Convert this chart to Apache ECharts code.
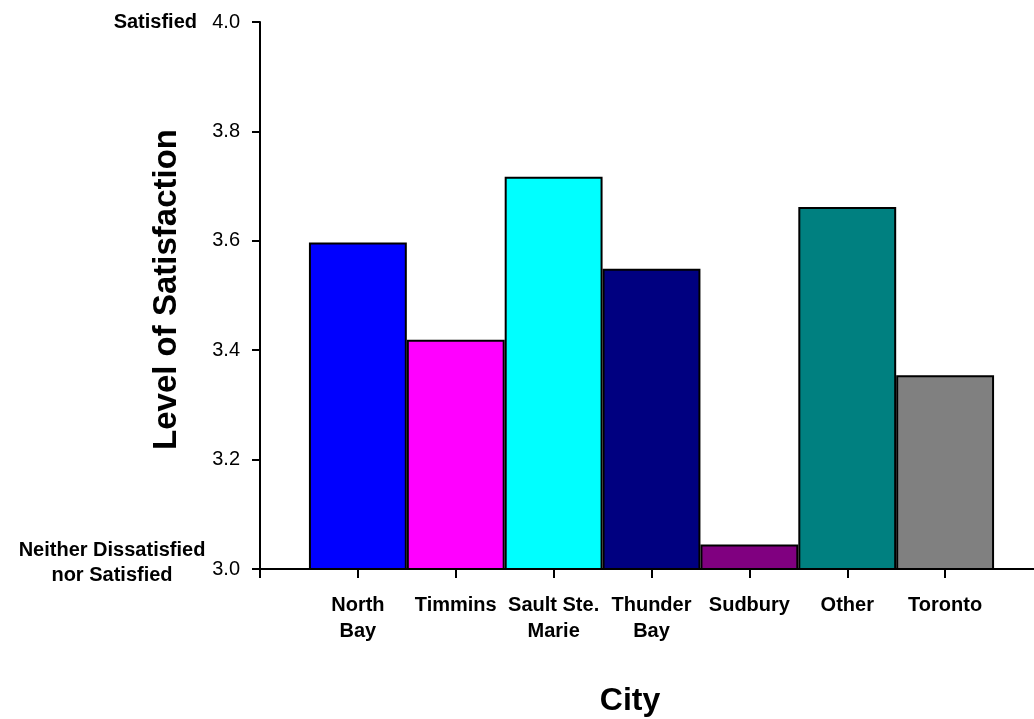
<!DOCTYPE html>
<html>
<head>
<meta charset="utf-8">
<script src="https://cdn.jsdelivr.net/npm/echarts@6/dist/echarts.min.js"></script>
<style>
html,body{margin:0;padding:0;background:#fff;overflow:hidden;}
#chart{width:1034px;height:719px;}
</style>
</head>
<body>
<div id="chart"></div>
<script>
// ---- data ----
const cities = ['North\nBay', 'Timmins', 'Sault Ste.\nMarie', 'Thunder\nBay', 'Sudbury', 'Other', 'Toronto'];
const satisfaction = [3.597, 3.419, 3.717, 3.549, 3.045, 3.662, 3.354];
const barColors = ['#0000FF', '#FF00FF', '#00FFFF', '#000080', '#800080', '#008080', '#808080'];
const yMin = 3.0, yMax = 4.0, yStep = 0.2;
const yTopLabel = 'Satisfied';
const yBottomLabel = 'Neither Dissatisfied\nnor Satisfied';
const xTitle = 'City';
const yTitle = 'Level of Satisfaction';

const FONT = "'Liberation Sans', Arial, Helvetica, sans-serif";

// axis has an empty slot at each end so bars sit centred on the ticks
const axisCats = [''].concat(cities, ['']);
const seriesData = ['-'].concat(satisfaction.map((v, i) => ({
  value: v,
  itemStyle: { color: barColors[i] }
})), ['-']);

const chart = echarts.init(document.getElementById('chart'), null, { renderer: 'canvas' });
chart.setOption({
  animation: false,
  backgroundColor: '#ffffff',
  grid: { left: 260, top: 22, height: 547, width: 783, containLabel: false, outerBoundsMode: 'none' },
  xAxis: {
    type: 'category',
    data: axisCats,
    boundaryGap: false,
    axisLine: { show: true, lineStyle: { color: '#000', width: 2 } },
    axisTick: { show: true, interval: 0, length: 9, lineStyle: { color: '#000', width: 2 } },
    axisLabel: {
      interval: 0, margin: 23, color: '#000',
      fontFamily: FONT, fontSize: 20, fontWeight: 'bold', lineHeight: 26
    },
    splitLine: { show: false }
  },
  yAxis: {
    type: 'value',
    min: yMin, max: yMax, interval: yStep,
    axisLine: { show: true, lineStyle: { color: '#000', width: 2 } },
    axisTick: { show: true, length: 8, lineStyle: { color: '#000', width: 2 } },
    axisLabel: {
      margin: 20, color: '#000', fontFamily: FONT, fontSize: 20,
      formatter: v => v.toFixed(1)
    },
    splitLine: { show: false }
  },
  series: [{
    type: 'bar',
    data: seriesData,
    barCategoryGap: '0%',
    clip: true,
    itemStyle: { borderColor: '#000', borderWidth: 2 }
  }]
});

// side labels and titles placed against the axes' own scale
const pTop = chart.convertToPixel({ yAxisIndex: 0 }, yMax);
const pBot = chart.convertToPixel({ yAxisIndex: 0 }, yMin);
chart.setOption({
  graphic: [
    { type: 'text', x: 197, y: pTop, style: { text: yTopLabel, fill: '#000', font: "bold 20px " + FONT, textAlign: 'right', textVerticalAlign: 'middle' } },
    { type: 'text', x: 112, y: pBot - 6, style: { text: yBottomLabel, fill: '#000', font: "bold 20px " + FONT, textAlign: 'center', textVerticalAlign: 'middle', lineHeight: 25 } },
    { type: 'text', x: 167, y: (pTop + pBot) / 2 - 6, rotation: Math.PI / 2, style: { text: yTitle, fill: '#000', font: "bold 33px " + FONT, textAlign: 'center', textVerticalAlign: 'middle' } },
    { type: 'text', x: 630, y: 701, style: { text: xTitle, fill: '#000', font: "bold 32px " + FONT, textAlign: 'center', textVerticalAlign: 'middle' } }
  ]
});
</script>
</body>
</html>
